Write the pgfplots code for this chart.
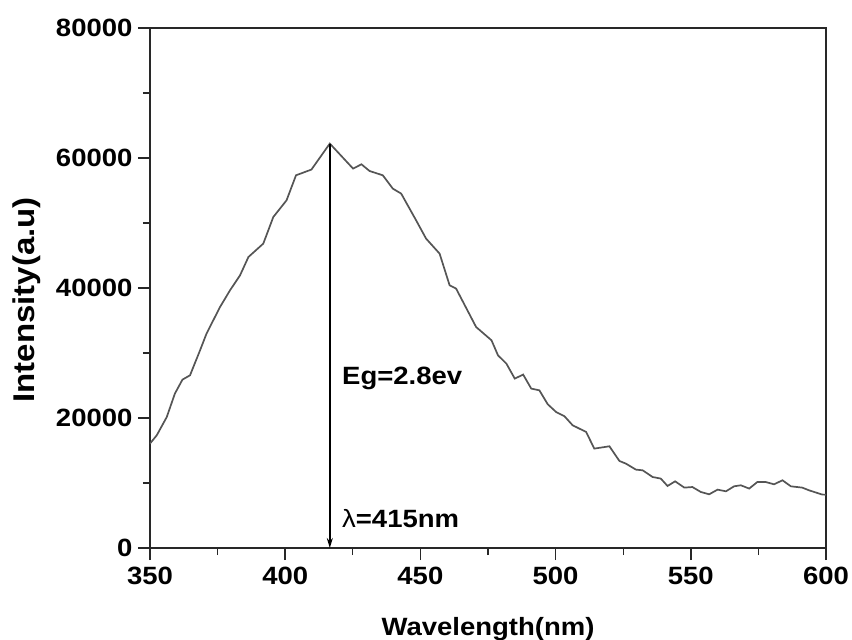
\documentclass[border=0pt]{standalone}
\usepackage{fontspec}
\setmainfont{Liberation Sans}[FakeStretch=1.1]
\usepackage{pgfplots}
\pgfplotsset{compat=1.18}
\usetikzlibrary{arrows.meta}

\definecolor{curve}{RGB}{85,85,85}
\definecolor{frame}{RGB}{40,40,40}

\begin{document}
\begin{tikzpicture}
\useasboundingbox (-150pt,-92pt) rectangle (702pt,548pt);
\begin{axis}[
  at={(0,0)}, anchor=south west,
  scale only axis,
  width=676pt, height=520pt,
  xmin=350, xmax=600,
  ymin=0, ymax=80000,
  xtick={350,400,...,600},
  ytick={0,20000,...,80000},
  minor x tick num=1,
  minor y tick num=1,
  tick pos=left,
  tick align=outside,
  major tick length=12pt,
  minor tick length=7pt,
  every tick/.style={frame, line width=1.4pt},
  axis line style={frame, line width=1.6pt},
  scaled y ticks=false,
  /pgf/number format/.cd, fixed, 1000 sep={}, assume math mode=true,
  /pgfplots/.cd,
  ticklabel style={font=\bfseries\fontsize{25}{29}\selectfont},
  xticklabel style={yshift=-4pt},
  yticklabel style={xshift=-2pt},
  xlabel={Wavelength(nm)},
  ylabel={Intensity(a.u)},
  xlabel style={at={(axis description cs:0.5,-0.1327)}, anchor=north, inner sep=0pt,
    font=\bfseries\fontsize{25}{29}\selectfont},
  ylabel style={at={(axis description cs:-0.2027,0.477)}, anchor=north, rotate=0, inner sep=0pt,
    font=\bfseries\fontsize{30}{34}\selectfont},
]
\addplot[curve, line width=1.7pt, mark=none] coordinates {
  (350,16060) (352.5,17340) (356.2,20150) (359.2,23750) (362,25900)
  (364.8,26570) (368.5,30400) (370.9,32980) (375.9,37080) (379.6,39650)
  (383.3,41950) (386.4,44770) (391.9,46830) (395.6,50920) (400.5,53490)
  (404,57340) (409.7,58220) (416.5,62220) (425.1,58370) (428.2,59030)
  (431.2,58000) (436.1,57340) (439.8,55290) (442.9,54520) (448.4,50420)
  (452.1,47600) (457.1,45290) (460.8,40420) (463.2,39910) (470.6,34000)
  (476.3,31950) (478.7,29640) (481.8,28370) (484.9,26060) (488,26680)
  (491,24520) (494,24260) (497.1,22110) (500.2,20920) (503.3,20260)
  (506.3,18880) (511.3,17850) (514.3,15290) (519.9,15650) (523.6,13390)
  (526,12980) (529.7,12060) (532.2,11950) (535.9,10920) (538.9,10680)
  (541.4,9540) (544.2,10260) (547.6,9290) (550.6,9380) (553.7,8620)
  (556.8,8260) (559.9,8980) (563,8720) (566,9490) (568.5,9650)
  (571.6,9140) (574.6,10150) (577.7,10150) (580.8,9800) (583.9,10420)
  (587,9490) (591.2,9290) (593.7,8880) (598.6,8220) (600,8200)
};
% peak marker line
\addplot[black, line width=1.6pt, -{Stealth[length=10pt,width=6pt]}] coordinates {
  (416.5,62220) (416.5,0)
};
\node[anchor=base west, inner sep=0pt, font=\bfseries\fontsize{25}{29}\selectfont]
  at (axis cs:421,25080) {Eg=2.8ev};
\node[anchor=base west, inner sep=0pt, font=\bfseries\fontsize{25}{29}\selectfont]
  at (axis cs:421,3230) {{\mdseries λ}=415nm};
\end{axis}
\end{tikzpicture}
\end{document}
